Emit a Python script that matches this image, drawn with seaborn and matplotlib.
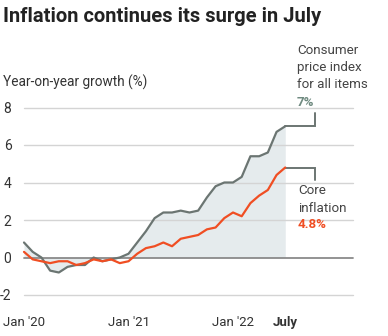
import matplotlib
matplotlib.use("Agg")
import matplotlib.pyplot as plt
import seaborn as sns
import pandas as pd
import numpy as np

# Monthly data, Jan 2020 .. Jul 2022
cpi = [0.8, 0.3, 0.0, -0.7, -0.8, -0.5, -0.4, -0.4, 0.0, -0.2, -0.1, 0.0,
       0.2, 0.8, 1.4, 2.1, 2.4, 2.4, 2.5, 2.4, 2.5, 3.2, 3.8, 4.0,
       4.0, 4.3, 5.4, 5.4, 5.6, 6.7, 7.0]
core = [0.3, -0.1, -0.2, -0.3, -0.2, -0.2, -0.4, -0.3, -0.1, -0.2, -0.1, -0.3,
        -0.2, 0.2, 0.5, 0.6, 0.8, 0.6, 1.0, 1.1, 1.2, 1.5, 1.6, 2.1,
        2.4, 2.2, 2.9, 3.3, 3.6, 4.4, 4.8]
tick_positions = [0, 12, 24, 30]
tick_labels = ["Jan '20", "Jan '21", "Jan '22", "July"]
y_ticks = [-2, 0, 2, 4, 6, 8]

months = list(range(len(cpi)))
df = pd.DataFrame({"month": months * 2,
                   "value": cpi + core,
                   "series": ["cpi"] * len(cpi) + ["core"] * len(core)})

sns.set_style("white")
plt.rcParams["font.family"] = ["Roboto", "DejaVu Sans"]

W, H = 388, 336
fig = plt.figure(figsize=(W / 100, H / 100), dpi=100)
left, right, bottom, top = 24, 353, 295, 107.5
ax = fig.add_axes([left / W, 1 - bottom / H, (right - left) / W, (bottom - top) / H])

GRAY = "#6b7572"
ORANGE = "#f04e23"

ax.fill_between(months, cpi, 0, color="#e5ebed", lw=0, zorder=1)
for yv in y_ticks:
    ax.axhline(yv, color="#8a8a8a" if yv == 0 else "#d4d4d4",
               lw=1.3 if yv == 0 else 1.0, zorder=2, clip_on=False)

sns.lineplot(data=df, x="month", y="value", hue="series",
             palette={"cpi": GRAY, "core": ORANGE}, lw=1.6, ax=ax,
             legend=False, zorder=4, clip_on=False)

# connectors
xe = months[-1]
ax.plot([xe, 33.4, 33.4], [cpi[-1], cpi[-1], 7.7], color=GRAY, lw=1.4,
        clip_on=False, zorder=3, solid_joinstyle="miter")
ax.plot([xe, 33.4, 33.4], [core[-1], core[-1], 4.15], color=GRAY, lw=1.4,
        clip_on=False, zorder=3, solid_joinstyle="miter")

ax.set_xlim(0, (right - left) / (104.5 / 12))
ax.set_ylim(-2, 8)
for s in ax.spines.values():
    s.set_visible(False)

ax.set_yticks(y_ticks)
ax.set_yticklabels([str(v) for v in y_ticks], fontsize=10, color="#333333")
ax.tick_params(axis="y", length=0, pad=9)

ax.set_xticks(tick_positions)
ax.set_xticklabels(tick_labels, fontsize=9.5, color="#333333")
ax.set_xticks(months, minor=True)
ax.tick_params(axis="x", which="major", length=11, width=1.0, color="#b5b5b5", pad=4)
ax.tick_params(axis="x", which="minor", length=6, width=1.0, color="#b5b5b5")
ax.get_xticklabels()[-1].set_fontweight("bold")
ax.set_xlabel("")
ax.set_ylabel("")

def ftext(px, py, s, **kw):
    fig.text(px / W, 1 - py / H, s, **kw)

ftext(3, 16, "Inflation continues its surge in July", fontsize=14.5,
      fontweight="bold", color="#222222", va="center", ha="left")
ftext(3, 82, "Year-on-year growth (%)", fontsize=9.8, color="#333333",
      va="center", ha="left")

lab_kw = dict(fontsize=9.6, color="#444444", va="center", ha="left")
for i, line in enumerate(["Consumer", "price index", "for all items"]):
    ftext(297, 51 + i * 17, line, **lab_kw)
ftext(297, 102, "7%", fontsize=9.6, color="#6f8a80", fontweight="bold",
      va="center", ha="left")
for i, line in enumerate(["Core", "inflation"]):
    ftext(298, 191 + i * 17, line, **lab_kw)
ftext(298, 225, "4.8%", fontsize=9.6, color=ORANGE, fontweight="bold",
      va="center", ha="left")

fig.savefig("out.png", dpi=100)
